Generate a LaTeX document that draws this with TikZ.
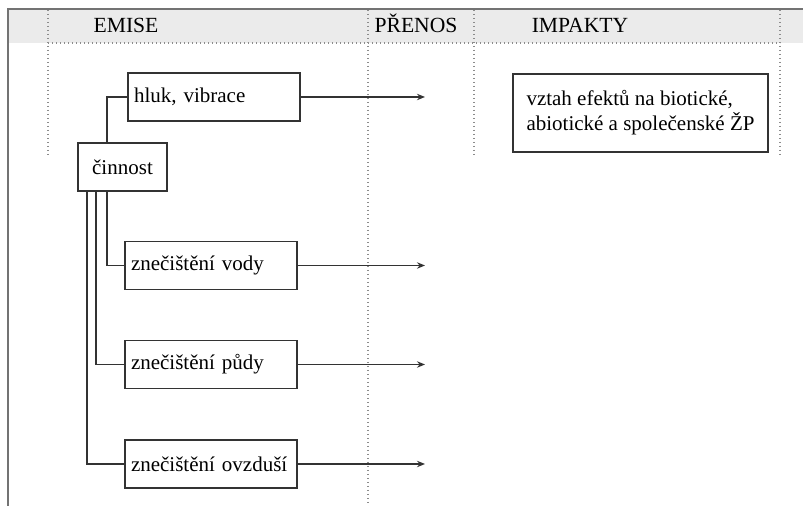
\documentclass[tikz,border=0pt]{standalone}
\usepackage{fontspec}
\setmainfont{Liberation Serif}
\usetikzlibrary{arrows.meta}
\begin{document}
\begin{tikzpicture}[x=0.5pt,y=-0.5pt,
		box/.style={rectangle, draw=black!80, line width=0.7pt, minimum height=24pt, inner xsep=3pt, font=\fontsize{10.5}{12.5}\selectfont},
		leftbox/.style={box, text width=80pt, align=left},
		grid/.style={draw=black!45, line width=0.6pt, dash pattern=on 0.6pt off 1.4pt},
		head/.style={anchor=base, font=\fontsize{10.8}{12}\selectfont},
		link/.style={draw=black!80, line width=0.7pt},
		flow/.style={link, -{Stealth[length=4pt, width=3.2pt]}}
		]
		\useasboundingbox (0,0) rectangle (803,506);
		\fill[black!8] (9,10) rectangle (803,43);
		\draw[black!55, line width=1pt] (803,9) -- (8,9) -- (8,506);
		\draw[grid] (48,43) -- (780,43);
		\draw[grid] (48,10) -- (48,155);
		\draw[grid] (368,10) -- (368,506);
		\draw[grid] (474,10) -- (474,157);
		\draw[grid] (780,10) -- (780,157);
		\node[head] (emise) at (126,33) {EMISE};
		\node[head] (prenos) at (416,33) {PŘENOS};
		\node[head] (impakty) at (580,33) {IMPAKTY};
		\node[box, minimum width=44.5pt] (cin) at (122.5,167) {činnost};
		\node[leftbox] (hluk) at (214,97) {hluk, vibrace};
		\node[leftbox] (vody) at (211,265.5) {znečištění vody};
		\node[leftbox] (pudy) at (211,364.5) {znečištění půdy};
		\node[leftbox] (ovzdusi) at (211,464) {znečištění ovzduší};
		\node[box, minimum width=127.5pt, minimum height=39pt, align=left] (vztah) at (640.5,113) {vztah efektů na biotické,\\abiotické a společenské ŽP};
		\coordinate (arr) at (425,0);
		\draw[link] ([xshift=-7.75pt]cin.north) |- (hluk.west);
		\draw[link] ([xshift=-7.75pt]cin.south) |- (vody.west);
		\draw[link] ([xshift=-13.25pt]cin.south) |- (pudy.west);
		\draw[link] ([xshift=-17.75pt]cin.south) |- (ovzdusi.west);
		\draw[flow] (hluk.east) -- (hluk.east -| arr);
		\draw[flow] (vody.east) -- (vody.east -| arr);
		\draw[flow] (pudy.east) -- (pudy.east -| arr);
		\draw[flow] (ovzdusi.east) -- (ovzdusi.east -| arr);
	\end{tikzpicture}
\end{document}
